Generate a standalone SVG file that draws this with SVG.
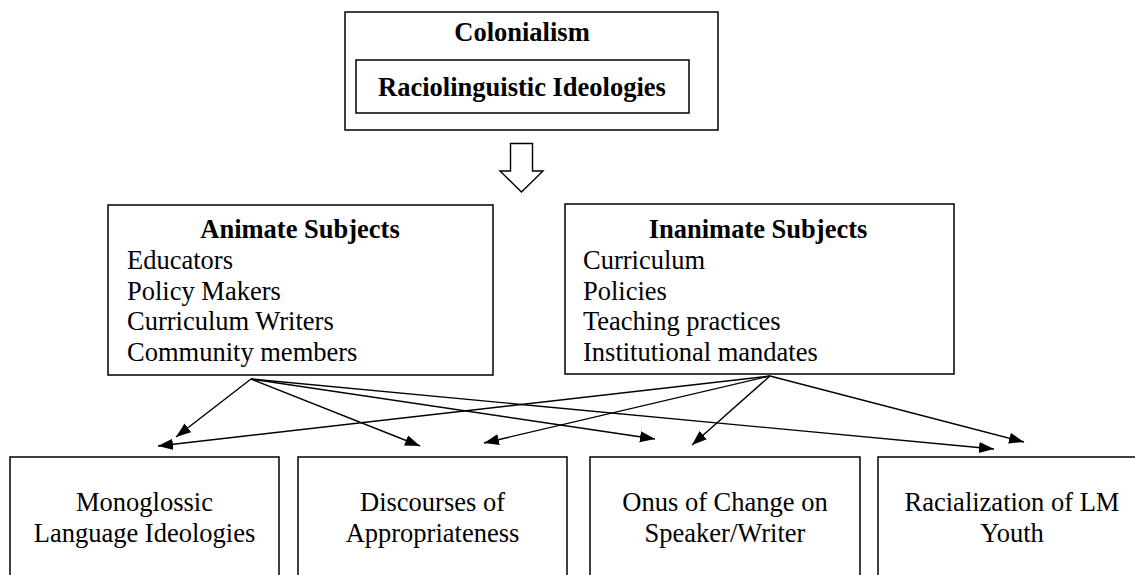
<svg xmlns="http://www.w3.org/2000/svg" width="1135" height="575" viewBox="0 0 1135 575">
<style>
.box{fill:#fff;stroke:#000;stroke-width:1.5}
.t{font-family:"Liberation Serif","Times New Roman",serif;font-size:26.5px;fill:#000}
.b{font-weight:bold}
.m{text-anchor:middle}
.c{stroke:#000;stroke-width:1.4;fill:none;marker-end:url(#ah)}
</style>
<defs>
<marker id="ah" markerUnits="userSpaceOnUse" markerWidth="16" markerHeight="12" refX="15" refY="5.5" orient="auto">
<path d="M0,0 L15,5.5 L0,11 z" fill="#000"/>
</marker>
</defs>
<rect width="1135" height="575" fill="#fff"/>
<g id="colonialism">
<rect class="box" x="345" y="12" width="373" height="118"/>
<text class="t b m" x="522" y="41">Colonialism</text>
</g>
<g id="raciolinguistic">
<rect class="box" x="356" y="60" width="333" height="53"/>
<text class="t b m" x="522" y="96">Raciolinguistic Ideologies</text>
</g>
<g id="flow-arrow">
<path d="M510.5,143.5 H532.5 V171 H543 L521.5,192 L500,171 H510.5 Z" fill="#fff" stroke="#000" stroke-width="1.4"/>
</g>
<g id="animate">
<rect class="box" x="108" y="205" width="385" height="170"/>
<text class="t b m" x="300" y="238">Animate Subjects</text>
<text class="t" x="127" y="269">Educators</text>
<text class="t" x="127" y="300">Policy Makers</text>
<text class="t" x="127" y="330">Curriculum Writers</text>
<text class="t" x="127" y="361">Community members</text>
</g>
<g id="inanimate">
<rect class="box" x="565" y="204" width="389" height="170"/>
<text class="t b m" x="758" y="238">Inanimate Subjects</text>
<text class="t" x="583" y="269">Curriculum</text>
<text class="t" x="583" y="300">Policies</text>
<text class="t" x="583" y="330">Teaching practices</text>
<text class="t" x="583" y="361">Institutional mandates</text>
</g>
<g id="monoglossic">
<rect class="box" x="10" y="457" width="269" height="140"/>
<text class="t m" x="144.5" y="511">Monoglossic</text>
<text class="t m" x="144.5" y="542">Language Ideologies</text>
</g>
<g id="discourses">
<rect class="box" x="298" y="457" width="269" height="140"/>
<text class="t m" x="432.5" y="511">Discourses of</text>
<text class="t m" x="432.5" y="542">Appropriateness</text>
</g>
<g id="onus">
<rect class="box" x="590" y="457" width="270" height="140"/>
<text class="t m" x="725" y="511">Onus of Change on</text>
<text class="t m" x="725" y="542">Speaker/Writer</text>
</g>
<g id="racialization">
<rect class="box" x="878" y="457" width="280" height="140"/>
<text class="t m" x="1012" y="511">Racialization of LM</text>
<text class="t m" x="1012" y="542">Youth</text>
</g>
<g id="connectors">
<line class="c" x1="251" y1="379" x2="176" y2="437"/>
<line class="c" x1="251" y1="379" x2="420" y2="446"/>
<line class="c" x1="251" y1="379" x2="655" y2="439"/>
<line class="c" x1="251" y1="379" x2="994" y2="449"/>
<line class="c" x1="770" y1="376" x2="158" y2="446"/>
<line class="c" x1="770" y1="376" x2="484" y2="443"/>
<line class="c" x1="770" y1="376" x2="692" y2="445"/>
<line class="c" x1="770" y1="376" x2="1024" y2="442"/>
</g>
</svg>
